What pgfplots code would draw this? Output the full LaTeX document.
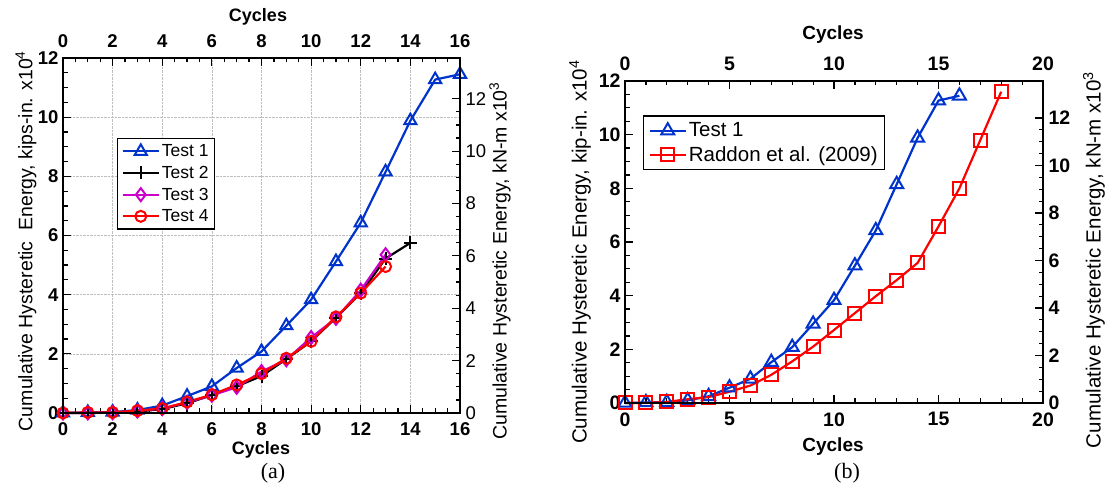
\documentclass[border=0pt]{standalone}
\usepackage{pgfplots}
\pgfplotsset{compat=1.18}
\usepackage{fontspec}
\setmainfont{Liberation Sans}
\newfontfamily\seriffont{Liberation Serif}

\definecolor{tblue}{RGB}{0,51,204}
\definecolor{tmag}{RGB}{204,0,204}

\pgfplotsset{
  panel/.style={
    scale only axis, anchor=south west, clip=false,
    tick align=inside,
    major tick length=8pt, minor tick length=4.5pt,
    every tick/.style={black, line width=1.2pt},
    axis line style={line width=1.6pt},
    /pgf/number format/assume math mode=true,
    ymin=0, ymax=12,
  },
  lpanel/.style={
    panel, at={(63pt,74pt)}, width=397pt, height=355pt,
    xmin=0, xmax=16, xtick={0,2,...,16}, minor x tick num=3,
    tick label style={font=\fontsize{18.5}{20}\selectfont\bfseries},
  },
  rpanel/.style={
    panel, at={(625pt,84pt)}, width=418pt, height=322pt,
    xmin=0, xmax=20, xtick={0,5,...,20}, minor x tick num=4,
    tick label style={font=\fontsize{19.5}{21}\selectfont\bfseries},
  },
  kip/.style={ytick={0,2,...,12}, minor y tick num=3, xtick pos=bottom, ytick pos=left,
    xticklabel style={yshift=-6pt}, yticklabel style={xshift=-1pt}},
  knm/.style={ymax=13.558, ytick={0,2,...,12}, minor y tick num=3,
    xtick pos=top, ytick pos=right, xticklabel pos=top, yticklabel pos=right,
    xticklabel style={yshift=7pt}, yticklabel style={xshift=2pt}},
  legline/.style={
    legend image code/.code={\draw[mark repeat=2,mark phase=2,##1]
      plot coordinates {(0pt,0pt) (18pt,0pt) (36pt,0pt)};}},
  dat/.style={line width=2.2pt, mark options={solid, line width=2pt}},
}

\begin{document}
\begin{tikzpicture}
\useasboundingbox (0,0) rectangle (1109pt,487pt);

% ---------- (a) ----------
\begin{axis}[lpanel, kip,
  grid=major, major grid style={densely dotted, gray!50, line width=0.6pt},
  legline, legend cell align=left,
  legend style={at={(0.136,0.775)}, anchor=north west, draw=black,
    line width=1.4pt, font=\fontsize{17.5}{21}\selectfont, inner sep=4pt,
    row sep=4pt},
]
\addplot[tblue, dat, mark=triangle, mark size=7pt] coordinates {
(0,0) (1,0.02) (2,0.03) (3,0.1) (4,0.25) (5,0.57) (6,0.9) (7,1.52) (8,2.08)
(9,2.95) (10,3.83) (11,5.12) (12,6.43) (13,8.15) (14,9.88) (15,11.27) (16,11.45)};
\addlegendentry{Test 1}
\addplot[black, dat, mark=+, mark size=6.5pt] coordinates {
(0,0) (1,0) (2,0.01) (3,0.05) (4,0.13) (5,0.33) (6,0.6) (7,0.9) (8,1.25)
(9,1.82) (10,2.42) (11,3.22) (12,4.05) (13,5.22) (14,5.75)};
\addlegendentry{Test 2}
\addplot[tmag, dat, mark=diamond, mark size=6.5pt] coordinates {
(0,0) (1,0) (2,0.01) (3,0.07) (4,0.15) (5,0.36) (6,0.6) (7,0.87) (8,1.4)
(9,1.8) (10,2.55) (11,3.2) (12,4.15) (13,5.35)};
\addlegendentry{Test 3}
\addplot[red, dat, mark=o, mark size=5.5pt] coordinates {
(0,0) (1,0.02) (2,0.02) (3,0.08) (4,0.15) (5,0.37) (6,0.62) (7,0.95) (8,1.33)
(9,1.85) (10,2.42) (11,3.25) (12,4.05) (13,4.95)};
\addlegendentry{Test 4}
\end{axis}
\begin{axis}[lpanel, knm,
  yticklabel style={font=\fontsize{18.5}{20}\selectfont}]
\end{axis}

% ---------- (b) ----------
\begin{axis}[rpanel, kip,
  legline, legend cell align=left,
  legend style={at={(0.043,0.894)}, anchor=north west, draw=black,
    line width=1.4pt, font=\fontsize{20.5}{24}\selectfont, inner sep=5pt,
    row sep=4pt},
]
\addplot[tblue, dat, mark=triangle, mark size=7.5pt] coordinates {
(0,0) (1,0.02) (2,0.03) (3,0.1) (4,0.25) (5,0.57) (6,0.9) (7,1.52) (8,2.08)
(9,2.95) (10,3.83) (11,5.12) (12,6.43) (13,8.15) (14,9.88) (15,11.27) (16,11.45)};
\addlegendentry{Test 1}
\addplot[red, dat, mark=square, mark size=6.5pt] coordinates {
(0,0) (1,0) (2,0.04) (3,0.14) (4,0.22) (5,0.42) (6,0.65) (7,1.05) (8,1.55)
(9,2.1) (10,2.72) (11,3.35) (12,3.98) (13,4.58) (14,5.22) (15,6.58) (16,8.0)
(17,9.8) (18,11.6)};
\addlegendentry{Raddon et al. (2009)}
\end{axis}
\begin{axis}[rpanel, knm]
\end{axis}

% ---------- labels ----------
\begin{scope}[every node/.style={inner sep=0pt}]
\node[font=\fontsize{18}{20}\selectfont\bfseries] at (258pt,470pt) {Cycles};
\node[font=\fontsize{18}{20}\selectfont\bfseries] at (261pt,37pt) {Cycles};
\node[font=\fontsize{19.5}{22}\selectfont, rotate=90] at (26pt,246pt)
  {Cumulative Hysteretic\ \ Energy, kips-in. x10\textsuperscript{4}};
\node[font=\fontsize{19.5}{22}\selectfont, rotate=90] at (500pt,226pt)
  {Cumulative Hysteretic Energy, kN-m x10\textsuperscript{3}};
\node[font=\fontsize{22}{24}\selectfont\seriffont] at (273pt,14pt) {(a)};

\node[font=\fontsize{19}{22}\selectfont\bfseries] at (833pt,452pt) {Cycles};
\node[font=\fontsize{19}{22}\selectfont\bfseries] at (833pt,40pt) {Cycles};
\node[font=\fontsize{20.5}{23}\selectfont, rotate=90] at (580pt,235pt)
  {Cumulative Hysteretic Energy, kip-in. x10\textsuperscript{4}};
\node[font=\fontsize{20.5}{23}\selectfont, rotate=90] at (1094pt,227pt)
  {Cumulative Hysteretic Energy, kN-m x10\textsuperscript{3}};
\node[font=\fontsize{22}{24}\selectfont\seriffont] at (847pt,14pt) {(b)};
\end{scope}
\end{tikzpicture}
\end{document}
